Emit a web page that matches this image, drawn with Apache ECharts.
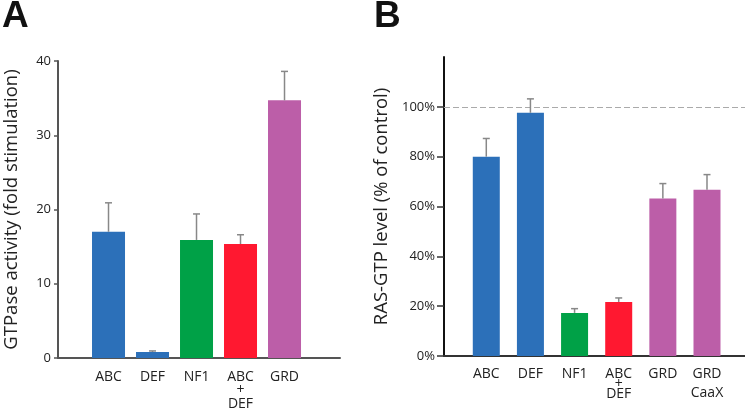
<!DOCTYPE html>
<html>
<head>
<meta charset="utf-8">
<script src="https://cdn.jsdelivr.net/npm/echarts@6/dist/echarts.min.js"></script>
<style>html,body{margin:0;padding:0;background:#fff;}#c{width:745px;height:412px;}</style>
</head>
<body>
<div id="c"></div>
<script>
// Panel A data
const catsA = ['ABC', 'DEF', 'NF1', 'ABC+DEF', 'GRD'];
const valsA = [17.0, 0.8, 15.9, 15.35, 34.7];
const errTopA = [20.9, 0.95, 19.4, 16.6, 38.6];
const colorsA = ['#2c70b9', '#2c70b9', '#00a147', '#ff1830', '#bc5ea8'];
const ticksA = [0, 10, 20, 30, 40];

// Panel B data
const catsB = ['ABC', 'DEF', 'NF1', 'ABC+DEF', 'GRD', 'GRD CaaX'];
const valsB = [80.0, 97.6, 17.3, 21.7, 63.2, 66.7];
const errTopB = [87.3, 103.2, 19.0, 23.3, 69.2, 72.8];
const colorsB = ['#2c70b9', '#2c70b9', '#00a147', '#ff1830', '#bc5ea8', '#bc5ea8'];
const ticksB = [0, 20, 40, 60, 80, 100];

const FONT = 'Open Sans';
const TXT = '#222';

function errRender(params, api) {
  const x = api.value(0), m = api.value(1), u = api.value(2);
  const p0 = api.coord([x, m]), p1 = api.coord([x, u]);
  const st = { stroke: '#888', lineWidth: 1.5 };
  return { type: 'group', children: [
    { type: 'line', shape: { x1: p0[0], y1: p0[1], x2: p1[0], y2: p1[1] }, style: st },
    { type: 'line', shape: { x1: p1[0] - 3.5, y1: p1[1], x2: p1[0] + 3.5, y2: p1[1] }, style: st }
  ]};
}

function labelA(v) {
  const c = catsA[Math.round(v) - 1] || '';
  return c.split('+').join('\n+\n');
}
function labelB(v) {
  const c = catsB[Math.round(v) - 1] || '';
  if (c.indexOf('+') >= 0) { const p = c.split('+'); return '{a|' + p[0] + '}\n{p|+}\n{a|' + p[1] + '}'; }
  return c.split(' ').map(s => '{a|' + s + '}').join('\n');
}

const chart = echarts.init(document.getElementById('c'));
chart.setOption({
  animation: false,
  backgroundColor: '#fff',
  title: [
    { text: 'A', left: 2, top: -2, padding: 0, textStyle: { fontFamily: 'Liberation Sans', fontWeight: 'bold', fontSize: 37, color: '#111' } },
    { text: 'B', left: 374, top: -2, padding: 0, textStyle: { fontFamily: 'Liberation Sans', fontWeight: 'bold', fontSize: 37, color: '#111' } }
  ],
  grid: [
    { left: 58, width: 282, top: 61, bottom: 54 },
    { left: 444, right: 0, top: 57, bottom: 56 }
  ],
  xAxis: [
    { type: 'value', gridIndex: 0, min: -0.148, max: 6.261,
      axisLine: { onZero: false, lineStyle: { color: '#555', width: 2 } },
      axisTick: { show: false }, splitLine: { show: false },
      axisLabel: { customValues: catsA.map((c, i) => i + 1), formatter: labelA, margin: 12,
        fontFamily: FONT, fontSize: 14, color: TXT, lineHeight: 13.5 } },
    { type: 'value', gridIndex: 1, min: 0.042, max: 6.861,
      axisLine: { onZero: false, lineStyle: { color: '#333', width: 2 } },
      axisTick: { show: false }, splitLine: { show: false },
      axisLabel: { customValues: catsB.map((c, i) => i + 1), formatter: labelB, margin: 9,
        fontFamily: FONT, fontSize: 14, color: TXT,
        rich: { a: { fontFamily: FONT, fontSize: 14, color: TXT, lineHeight: 19 },
                p: { fontFamily: FONT, fontSize: 14, color: TXT, lineHeight: 1 } } } }
  ],
  yAxis: [
    { type: 'value', gridIndex: 0, min: 0, max: 40, interval: 10,
      name: 'GTPase activity (fold stimulation)', nameLocation: 'middle', nameGap: 37,
      nameTextStyle: { fontFamily: FONT, fontSize: 18.5, color: TXT },
      axisLine: { show: true, onZero: false, lineStyle: { color: '#555', width: 2 } },
      axisTick: { show: true, length: 4, lineStyle: { color: '#555', width: 1.5 } },
      splitLine: { show: false },
      axisLabel: { margin: 7, fontFamily: FONT, fontSize: 13, color: TXT, customValues: ticksA } },
    { type: 'value', gridIndex: 1, min: 0, max: 120,
      name: 'RAS-GTP level (% of control)', nameLocation: 'middle', nameGap: 53,
      nameTextStyle: { fontFamily: FONT, fontSize: 18.5, color: TXT },
      axisLine: { show: true, onZero: false, lineStyle: { color: '#111', width: 2 } },
      axisTick: { show: true, length: 7, customValues: ticksB, lineStyle: { color: '#333', width: 1.5 } },
      splitLine: { show: false },
      axisLabel: { margin: 9, fontFamily: FONT, fontSize: 13, color: TXT, customValues: ticksB, formatter: v => v + '%' } }
  ],
  series: [
    { type: 'bar', xAxisIndex: 0, yAxisIndex: 0, barWidth: 33,
      data: valsA.map((v, i) => ({ value: [i + 1, v], itemStyle: { color: colorsA[i] } })) },
    { type: 'custom', xAxisIndex: 0, yAxisIndex: 0, renderItem: errRender, z: 5,
      data: valsA.map((v, i) => [i + 1, v, errTopA[i]]) },
    { type: 'bar', xAxisIndex: 1, yAxisIndex: 1, barWidth: 27,
      data: valsB.map((v, i) => ({ value: [i + 1, v], itemStyle: { color: colorsB[i] } })),
      markLine: { silent: true, symbol: 'none', label: { show: false },
        lineStyle: { type: [6, 3], color: '#aaa', width: 1 }, data: [{ yAxis: 100 }] } },
    { type: 'custom', xAxisIndex: 1, yAxisIndex: 1, renderItem: errRender, z: 5,
      data: valsB.map((v, i) => [i + 1, v, errTopB[i]]) }
  ]
});
</script>
</body>
</html>
